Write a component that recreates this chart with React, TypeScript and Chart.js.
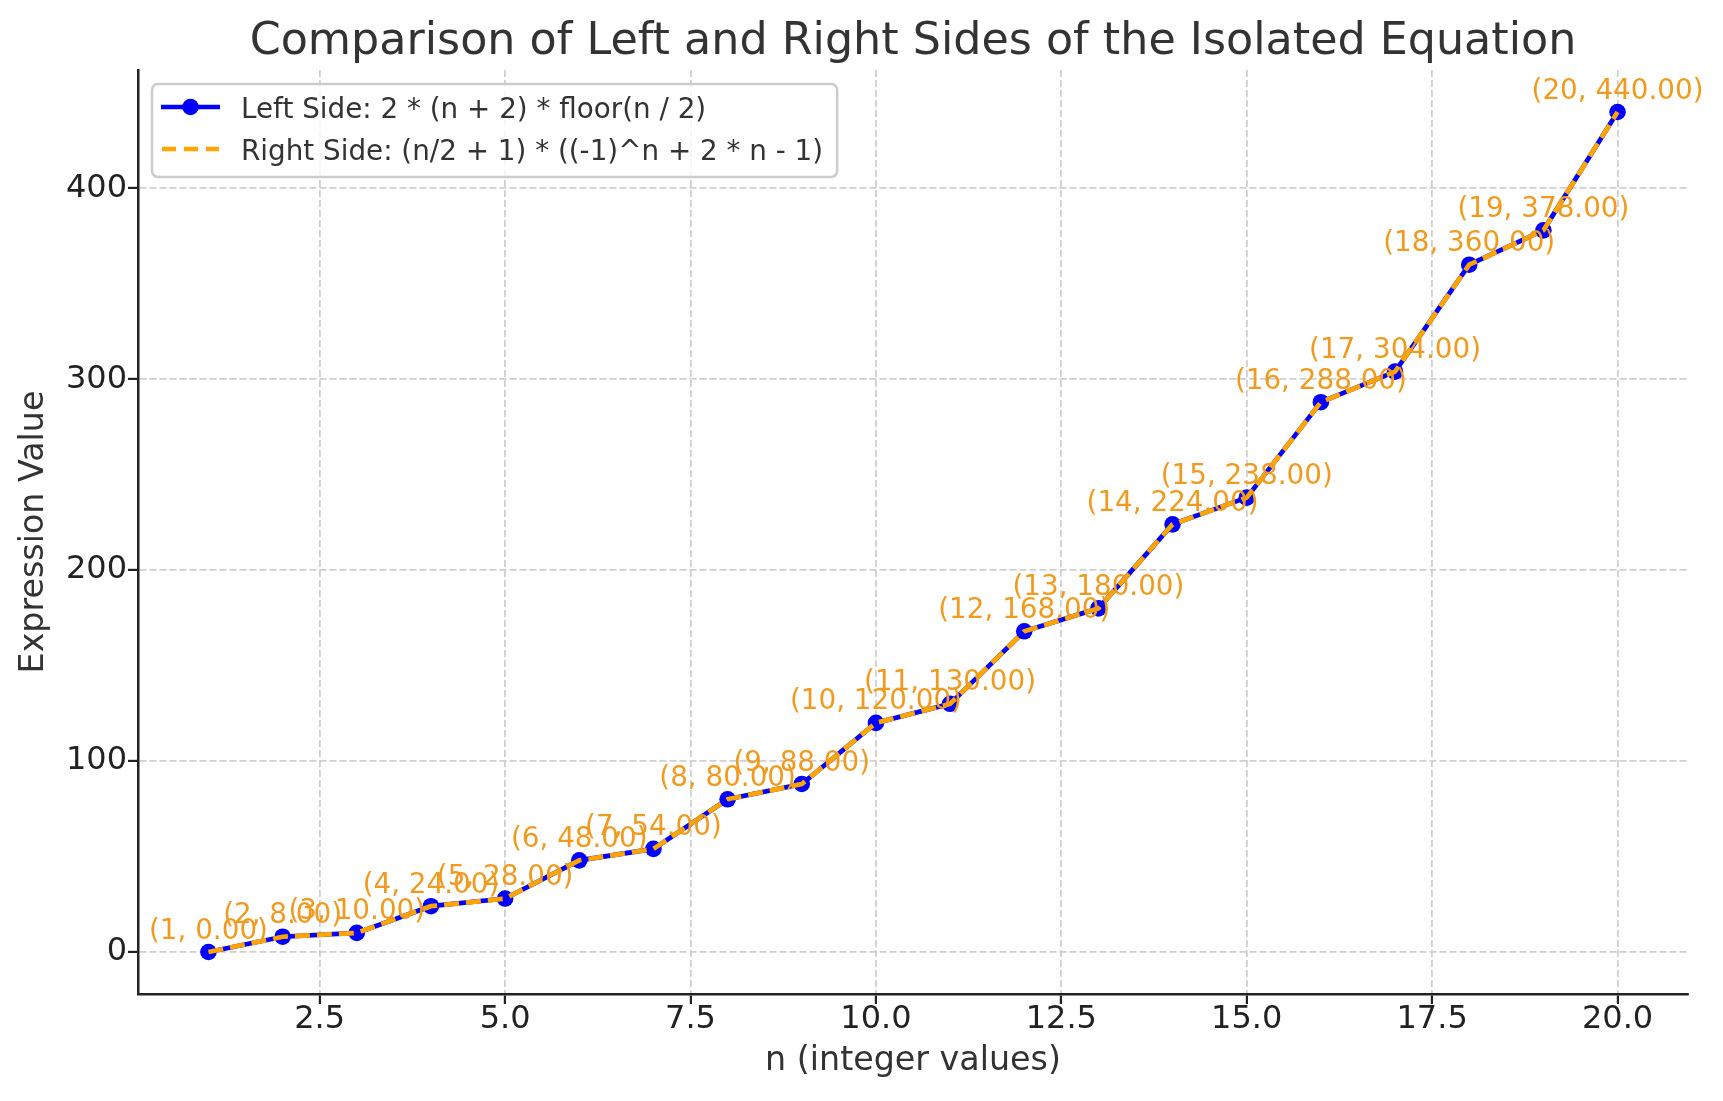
import React, { useEffect, useRef } from 'react';
import { Chart, registerables } from 'chart.js';

Chart.register(...registerables);

const chartTitle = 'Comparison of Left and Right Sides of the Isolated Equation';
const xLabel = 'n (integer values)';
const yLabel = 'Expression Value';
const seriesNames = [
  'Left Side: 2 * (n + 2) * floor(n / 2)',
  'Right Side: (n/2 + 1) * ((-1)^n + 2 * n - 1)',
];

const nValues = [1, 2, 3, 4, 5, 6, 7, 8, 9, 10, 11, 12, 13, 14, 15, 16, 17, 18, 19, 20];
const leftSide = [0, 8, 10, 24, 28, 48, 54, 80, 88, 120, 130, 168, 180, 224, 238, 288, 304, 360, 378, 440];
const rightSide = [0, 8, 10, 24, 28, 48, 54, 80, 88, 120, 130, 168, 180, 224, 238, 288, 304, 360, 378, 440];

const xTicks = [2.5, 5, 7.5, 10, 12.5, 15, 17.5, 20];
const yTicks = [0, 100, 200, 300, 400];

const FONT = '"DejaVu Sans", sans-serif';
const BLUE = '#0000ff';
const ORANGE = '#ffa500';
const LABEL_ORANGE = '#f09b1f';

const titlePlugin = {
  id: 'plotTitle',
  afterDraw(chart: Chart) {
    const { ctx, chartArea } = chart;
    ctx.save();
    ctx.font = `44.4px ${FONT}`;
    ctx.fillStyle = '#333333';
    ctx.textAlign = 'center';
    ctx.textBaseline = 'alphabetic';
    ctx.fillText(chartTitle, (chartArea.left + chartArea.right) / 2, chartArea.top - 16);
    ctx.restore();
  },
};

// "(n, value)" text above each point of the left-side series
const pointLabelPlugin = {
  id: 'pointLabels',
  afterDatasetsDraw(chart: Chart) {
    const { ctx } = chart;
    const meta = chart.getDatasetMeta(0);
    ctx.save();
    ctx.font = `27.8px ${FONT}`;
    ctx.fillStyle = LABEL_ORANGE;
    ctx.textAlign = 'center';
    ctx.textBaseline = 'alphabetic';
    meta.data.forEach((pt: any, i: number) => {
      ctx.fillText(`(${nValues[i]}, ${leftSide[i].toFixed(2)})`, pt.x, pt.y - 13.5);
    });
    ctx.restore();
  },
};

const legendPlugin = {
  id: 'boxLegend',
  afterDraw(chart: Chart) {
    const { ctx, chartArea } = chart;
    const x0 = chartArea.left + 14;
    const y0 = chartArea.top + 14;
    ctx.save();
    ctx.font = `27.8px ${FONT}`;
    const textX = x0 + 89;
    const textW = Math.max(...seriesNames.map((s) => ctx.measureText(s).width));
    const boxW = textX - x0 + textW + 14;
    const boxH = 93;

    ctx.beginPath();
    ctx.roundRect(x0, y0, boxW, boxH, 6);
    ctx.fillStyle = 'rgba(255,255,255,0.8)';
    ctx.fill();
    ctx.lineWidth = 2.5;
    ctx.strokeStyle = '#cccccc';
    ctx.stroke();

    const rows = [y0 + 23, y0 + 65];
    // left side sample: solid line with marker
    ctx.lineWidth = 4.7;
    ctx.strokeStyle = BLUE;
    ctx.setLineDash([]);
    ctx.beginPath();
    ctx.moveTo(x0 + 9, rows[0]);
    ctx.lineTo(x0 + 68, rows[0]);
    ctx.stroke();
    ctx.fillStyle = BLUE;
    ctx.beginPath();
    ctx.arc(x0 + 38.5, rows[0], 8.3, 0, Math.PI * 2);
    ctx.fill();
    // right side sample: dashed line
    ctx.strokeStyle = ORANGE;
    ctx.setLineDash([14, 8]);
    ctx.beginPath();
    ctx.moveTo(x0 + 10, rows[1]);
    ctx.lineTo(x0 + 67, rows[1]);
    ctx.stroke();
    ctx.setLineDash([]);

    ctx.fillStyle = '#333333';
    ctx.textAlign = 'left';
    ctx.textBaseline = 'alphabetic';
    seriesNames.forEach((s, i) => ctx.fillText(s, textX, rows[i] + 11));
    ctx.restore();
  },
};

const gridOpts = {
  color: '#d0d0d0',
  lineWidth: 1.8,
  tickColor: '#222222',
  tickLength: 10,
  tickWidth: 2.2,
};

const borderOpts = {
  display: true,
  color: '#222222',
  width: 2.5,
  dash: [7, 3],
};

const App: React.FC = () => {
  const canvasRef = useRef<HTMLCanvasElement>(null);

  useEffect(() => {
    if (!canvasRef.current) return;
    const chart = new Chart(canvasRef.current, {
      type: 'line',
      data: {
        datasets: [
          {
            label: seriesNames[0],
            data: nValues.map((n, i) => ({ x: n, y: leftSide[i] })),
            borderColor: BLUE,
            backgroundColor: BLUE,
            borderWidth: 4.7,
            pointRadius: 8.3,
            pointBackgroundColor: BLUE,
            pointBorderWidth: 0,
            tension: 0,
            order: 2,
          },
          {
            label: seriesNames[1],
            data: nValues.map((n, i) => ({ x: n, y: rightSide[i] })),
            borderColor: ORANGE,
            backgroundColor: ORANGE,
            borderWidth: 4.7,
            borderDash: [15, 7],
            pointRadius: 0,
            tension: 0,
            order: 1,
          },
        ],
      },
      options: {
        animation: false,
        responsive: false,
        devicePixelRatio: 1,
        layout: { padding: { top: 70, right: 35, bottom: 0, left: 0 } },
        plugins: {
          legend: { display: false },
          tooltip: { enabled: false },
          title: { display: false },
        },
        scales: {
          x: {
            type: 'linear',
            min: 0.05,
            max: 20.95,
            afterBuildTicks: (s: any) => {
              s.ticks = xTicks.map((v) => ({ value: v }));
            },
            afterFit: (s: any) => {
              s.height = 107;
            },
            grid: gridOpts,
            border: borderOpts,
            ticks: {
              color: '#222222',
              font: { family: FONT, size: 32, lineHeight: 1 },
              padding: 0,
              maxRotation: 0,
              autoSkip: false,
              callback: (v: any) => Number(v).toFixed(1),
            },
            title: {
              display: true,
              text: xLabel,
              color: '#333333',
              font: { family: FONT, size: 33.3 },
              padding: { top: 0, bottom: 20 },
            },
          },
          y: {
            type: 'linear',
            min: -22,
            max: 462,
            afterBuildTicks: (s: any) => {
              s.ticks = yTicks.map((v) => ({ value: v }));
            },
            afterFit: (s: any) => {
              s.width = 138;
            },
            grid: gridOpts,
            border: borderOpts,
            ticks: {
              color: '#222222',
              font: { family: FONT, size: 32 },
              padding: 1,
              callback: (v: any) => String(v),
            },
            title: {
              display: true,
              text: yLabel,
              color: '#333333',
              font: { family: FONT, size: 33.3 },
              padding: { top: 14, bottom: 0 },
            },
          },
        },
      },
      plugins: [pointLabelPlugin, titlePlugin, legendPlugin],
    });
    return () => chart.destroy();
  }, []);

  return (
    <div style={{ position: 'fixed', left: 0, top: 0, width: 1723, height: 1101, background: '#fff' }}>
      <canvas ref={canvasRef} width={1723} height={1101} />
    </div>
  );
};

export default App;
